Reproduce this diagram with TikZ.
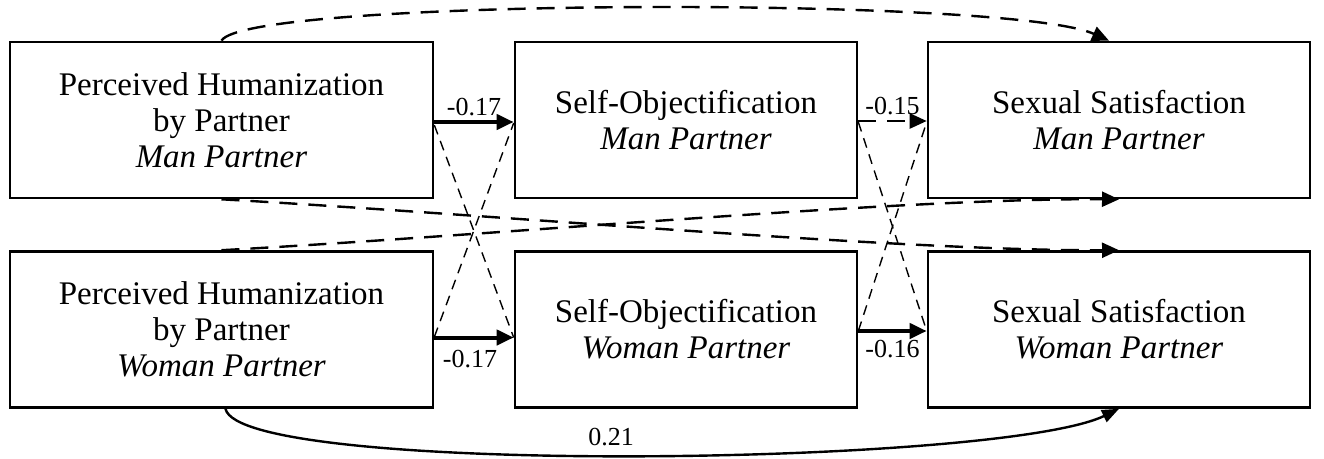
\documentclass[tikz,border=0pt]{standalone}
\usepackage{fontspec}
\setmainfont{Liberation Serif}
\usetikzlibrary{arrows.meta,calc}
\begin{document}
\begin{tikzpicture}[x=1pt,y=-1pt,
  varbox/.style={draw,line width=2.6pt,minimum height=156pt,inner sep=0pt,
    align=center,font=\fontsize{33}{36}\selectfont},
  pathsig/.style={line width=4pt,-{Triangle[length=17pt,width=15pt]}},
  pathns/.style={line width=2.4pt,dash pattern=on 18pt off 11pt,
    -{Triangle[length=17pt,width=15pt]}},
  crossns/.style={line width=1.4pt,dash pattern=on 10pt off 7pt},
  coef/.style={font=\fontsize{26}{28}\selectfont,inner sep=1pt}]
\useasboundingbox (0,0) rectangle (1324,458);

% variables: man partner (top row), woman partner (bottom row)
\node[varbox,minimum width=423pt] (hm) at (221.5,120)
  {Perceived Humanization\\by Partner\\\textit{Man Partner}};
\node[varbox,minimum width=342pt] (om) at (686,120)
  {Self-Objectification\\\textit{Man Partner}};
\node[varbox,minimum width=382pt] (sm) at (1119,120)
  {Sexual Satisfaction\\\textit{Man Partner}};
\node[varbox,minimum width=423pt] (hw) at (221.5,329.5)
  {Perceived Humanization\\by Partner\\\textit{Woman Partner}};
\node[varbox,minimum width=342pt] (ow) at (686,329.5)
  {Self-Objectification\\\textit{Woman Partner}};
\node[varbox,minimum width=382pt] (sw) at (1119,329.5)
  {Sexual Satisfaction\\\textit{Woman Partner}};

% partner (cross) effects, non-significant
\draw[crossns] ([yshift=-5pt]hm.east) -- ([yshift=-8pt]ow.west);
\draw[crossns] ([yshift=-7.5pt]hw.east) -- ([yshift=-3pt]om.west);
\draw[crossns] ([yshift=-2pt]om.east) -- ([yshift=-1.5pt]sw.west);
\draw[crossns] ([yshift=-1.5pt]ow.east) -- ([yshift=-2pt]sm.west);

% direct effects of humanization on satisfaction, non-significant
\draw[pathns] (hm.north) .. controls (245,-2) and (1010,-4) .. ([xshift=-10pt]sm.north);
\draw[pathns] (hm.south) .. controls (500,215) and (900,251) .. (sw.north);
\draw[pathns] (hw.north) .. controls (500,235) and (900,198) .. (sm.south);

% actor effects
\draw[pathsig] ([yshift=-2pt]hm.east) -- ([yshift=-2pt]om.west)
  node[coef,pos=0.5,above=3pt] {-0.17};
\draw[pathns] ([yshift=-1pt]om.east) -- ([yshift=-1pt]sm.west)
  node[coef,pos=0.5,above=4pt] {-0.15};
\draw[pathsig] ([yshift=-8pt]hw.east) -- ([yshift=-8pt]ow.west)
  node[coef,pos=0.45,below=10pt] {-0.17};
\draw[pathsig] ([yshift=-1.5pt]ow.east) -- ([yshift=-1.5pt]sw.west)
  node[coef,pos=0.5,below=6pt] {-0.16};

% significant direct effect for the woman partner
\draw[line width=2.4pt,-{Triangle[length=17pt,width=13pt]}]
  ([xshift=4pt]hw.south) .. controls (240,476) and (1000,466) .. (sw.south);
\node[coef] (c21) at (611,437) {0.21};
\end{tikzpicture}
\end{document}
